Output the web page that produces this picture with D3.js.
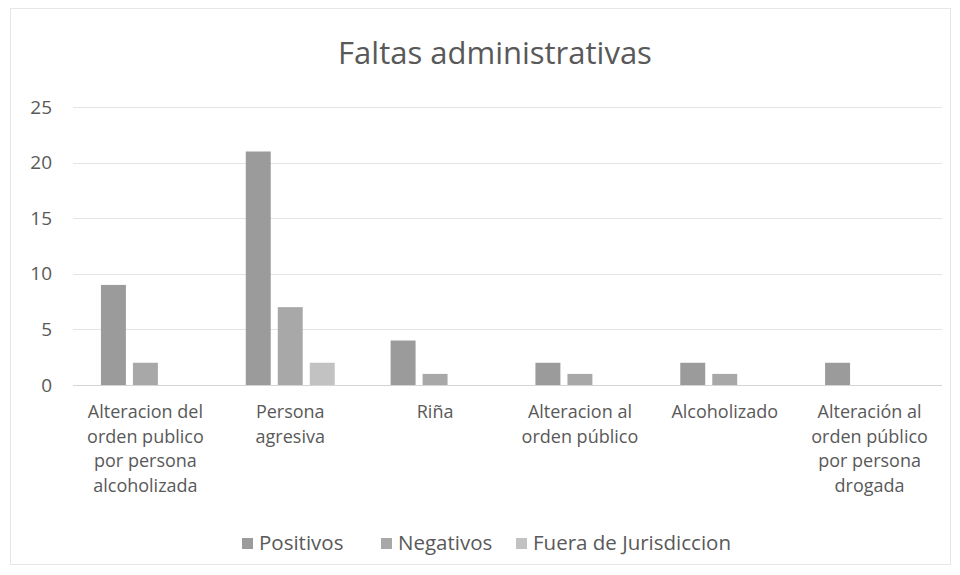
<!DOCTYPE html>
<html>
<head>
<meta charset="utf-8">
<script src="https://cdn.jsdelivr.net/npm/d3@7"></script>
<style>
  body { margin: 0; background: #fff; }
  svg { font-family: "Open Sans", sans-serif; }
</style>
</head>
<body>
<svg id="chart" width="960" height="575"></svg>
<script>
const categories = [
  "Alteracion del orden publico por persona alcoholizada",
  "Persona agresiva",
  "Riña",
  "Alteracion al orden público",
  "Alcoholizado",
  "Alteración al orden público por persona drogada",
];
const series = ["Positivos", "Negativos", "Fuera de Jurisdiccion"];
const positivos = [9, 21, 4, 2, 2, 2];
const negativos = [2, 7, 1, 1, 1, 0];
const fuera = [0, 2, 0, 0, 0, 0];
const yTicks = [0, 5, 10, 15, 20, 25];
const colors = ["#9b9b9b", "#a8a8a8", "#c2c2c2"];

const width = 960;
const height = 575;
const margin = { top: 107, right: 18, bottom: 190, left: 73 };
const values = [positivos, negativos, fuera];

const svg = d3.select("#chart");

svg
  .append("rect")
  .attr("x", 10.5)
  .attr("y", 8.5)
  .attr("width", 940)
  .attr("height", 556)
  .attr("fill", "#fff")
  .attr("stroke", "#e6e6e6");

const x0 = d3
  .scaleBand()
  .domain(categories)
  .range([margin.left, width - margin.right]);

const groupWidth = 96;
const x1 = d3
  .scaleBand()
  .domain(series)
  .range([x0.bandwidth() / 2 - groupWidth / 2, x0.bandwidth() / 2 + groupWidth / 2])
  .paddingInner(0.22)
  .paddingOuter(0.11);

const y = d3
  .scaleLinear()
  .domain([0, 25])
  .range([height - margin.bottom, margin.top]);

// gridlines
svg
  .append("g")
  .selectAll("line")
  .data(yTicks)
  .join("line")
  .attr("x1", margin.left)
  .attr("x2", width - margin.right)
  .attr("y1", (d) => Math.round(y(d)) + 0.5)
  .attr("y2", (d) => Math.round(y(d)) + 0.5)
  .attr("stroke", (d) => (d === 0 ? "#d4d4d4" : "#e4e4e4"))
  .attr("stroke-width", 1);

// y axis labels
const yAxis = svg
  .append("g")
  .attr("transform", `translate(${margin.left - 21},0)`)
  .call(d3.axisLeft(y).tickValues(yTicks).tickSize(0).tickPadding(0));
yAxis.select(".domain").remove();
yAxis
  .selectAll("text")
  .attr("fill", "#595959")
  .attr("font-size", 19)
  .attr("font-family", "Open Sans, sans-serif");

// bars
const groups = svg
  .append("g")
  .selectAll("g")
  .data(categories)
  .join("g")
  .attr("transform", (d) => `translate(${x0(d)},0)`);

groups
  .selectAll("rect")
  .data((d, i) => series.map((s, j) => ({ key: s, value: values[j][i], color: colors[j] })))
  .join("rect")
  .attr("x", (d) => x1(d.key))
  .attr("y", (d) => y(d.value))
  .attr("width", x1.bandwidth())
  .attr("height", (d) => y(0) - y(d.value))
  .attr("fill", (d) => d.color);

// category labels, wrapped like the original
svg
  .append("g")
  .selectAll("text")
  .data(categories)
  .join("text")
  .attr("transform", (d) => `translate(${x0(d) + x0.bandwidth() / 2},${y(0)})`)
  .attr("text-anchor", "middle")
  .attr("fill", "#595959")
  .attr("font-size", 18)
  .text((d) => d)
  .call(wrap, 125);

function wrap(texts, maxWidth) {
  texts.each(function () {
    const text = d3.select(this);
    const words = text.text().split(/\s+/);
    text.text(null);
    let line = [];
    let lineNo = 0;
    let tspan = text.append("tspan").attr("x", 0).attr("y", 33);
    for (const word of words) {
      line.push(word);
      tspan.text(line.join(" "));
      if (tspan.node().getComputedTextLength() > maxWidth && line.length > 1) {
        line.pop();
        tspan.text(line.join(" "));
        line = [word];
        lineNo += 1;
        tspan = text
          .append("tspan")
          .attr("x", 0)
          .attr("y", 33 + lineNo * 24.5)
          .text(word);
      }
    }
  });
}

// title
svg
  .append("text")
  .attr("x", 495)
  .attr("y", 64)
  .attr("text-anchor", "middle")
  .attr("fill", "#595959")
  .attr("font-size", 31)
  .text("Faltas administrativas");

// legend
const legendX = [242, 381, 516];
const legend = svg
  .append("g")
  .selectAll("g")
  .data(series)
  .join("g")
  .attr("transform", (d, i) => `translate(${legendX[i]},543)`);

legend
  .append("rect")
  .attr("x", 0)
  .attr("y", -5)
  .attr("width", 11)
  .attr("height", 11)
  .attr("fill", (d, i) => colors[i]);

legend
  .append("text")
  .attr("x", 17)
  .attr("y", 7)
  .attr("fill", "#595959")
  .attr("font-size", 20.5)
  .text((d) => d);
</script>
</body>
</html>
